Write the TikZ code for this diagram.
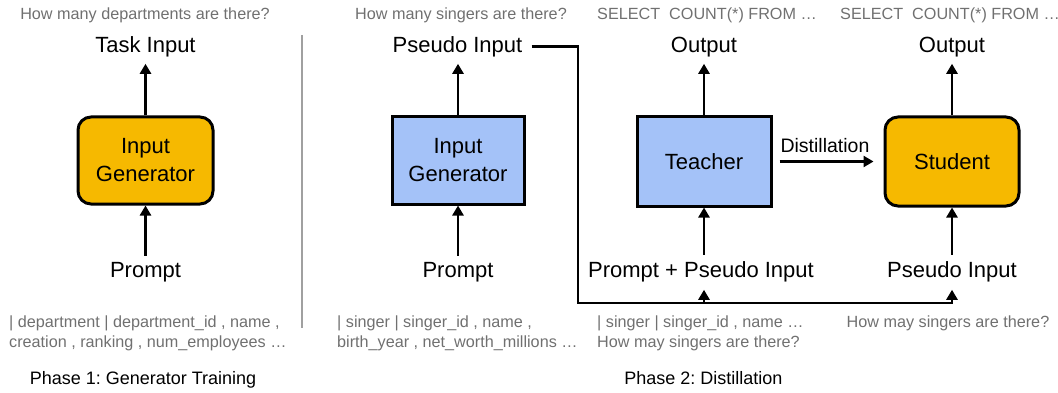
\documentclass[tikz,border=0pt]{standalone}
\usepackage{fontspec}
\setmainfont{Liberation Sans}
\usetikzlibrary{arrows.meta}
\definecolor{orangefill}{RGB}{246,185,0}
\definecolor{bluefill}{RGB}{164,194,248}
\definecolor{graytext}{RGB}{112,112,112}
\definecolor{sepgray}{RGB}{160,160,160}
\frenchspacing
\begin{document}
\begin{tikzpicture}[x=1pt,y=-1pt,
  lbl/.style={anchor=base,inner sep=0pt,font=\fontsize{22}{26}\selectfont},
  glbl/.style={anchor=base,inner sep=0pt,text=graytext,font=\fontsize{16.2}{19}\selectfont},
  gleft/.style={glbl,anchor=base west},
  phase/.style={anchor=base,inner sep=0pt,font=\fontsize{18}{22}\selectfont},
  boxbase/.style={draw=black,line width=3pt,inner sep=0pt,align=center,font=\fontsize{22}{28}\selectfont},
  obox/.style={boxbase,fill=orangefill,rounded corners=13pt},
  bbox/.style={boxbase,fill=bluefill},
  arr/.style={line width=2.8pt,-{Triangle[width=11pt,length=10pt]}},
  conn/.style={line width=2.8pt},
]
\useasboundingbox (0,0) rectangle (1058,393);

% separator
\draw[sepgray,line width=1.5pt] (302,35) -- (302,328);

% ---------- Phase 1 ----------
\node[glbl] (q1) at (145,20) {How many departments are there?};
\node[lbl] (ti) at (145.5,53) {Task Input};
\node[obox,minimum width=135pt,minimum height=87pt] (g1) at (145.5,160.5) {Input\\Generator};
\node[lbl] (pr1) at (145.5,277) {Prompt};
\node[gleft] (d1) at (9,327) {| department | department\_id , name ,};
\node[gleft] (d2) at (9,347) {creation , ranking , num\_employees …};
\node[phase] (ph1) at (143,384) {Phase 1: Generator Training};

\draw[arr,shorten >=6pt] (g1.north) -- (g1.north |- ti.south);
\draw[arr,shorten <=6pt] (g1.south |- pr1.north) -- (g1.south);

% ---------- Phase 2 ----------
\node[glbl] (q2) at (461,20) {How many singers are there?};
\node[glbl] (s1) at (707,20) {SELECT\ \ COUNT(*) FROM …};
\node[glbl] (s2) at (950,20) {SELECT\ \ COUNT(*) FROM …};

\node[lbl] (pin) at (457.5,53) {Pseudo Input};
\node[lbl] (out1) at (704,53) {Output};
\node[lbl] (out2) at (952,53) {Output};

\node[bbox,minimum width=132pt,minimum height=87pt] (g2) at (458,160.5) {Input\\Generator};
\node[bbox,minimum width=134pt,minimum height=89pt] (tea) at (704,161.5) {Teacher};
\node[obox,minimum width=134pt,minimum height=89pt] (stu) at (952,161.5) {Student};

\node[lbl] (pr2) at (458,277) {Prompt};
\node[lbl] (ppi) at (701,277) {Prompt + Pseudo Input};
\node[lbl] (psi) at (952,277) {Pseudo Input};

\node[gleft] (e1) at (337,327) {| singer | singer\_id , name ,};
\node[gleft] (e2) at (337,347) {birth\_year , net\_worth\_millions …};
\node[gleft] (f1) at (597,327) {| singer | singer\_id , name …};
\node[gleft] (f2) at (597,347) {How may singers are there?};
\node[glbl] (h1) at (948,327) {How may singers are there?};
\node[phase] (ph2) at (703.5,384) {Phase 2: Distillation};

% arrows
\draw[arr,shorten >=6pt] (g2.north) -- (g2.north |- pin.south);
\draw[arr,shorten <=6pt] (g2.south |- pr2.north) -- (g2.south);
\draw[arr,shorten >=6pt] (tea.north) -- (tea.north |- out1.south);
\draw[arr,shorten <=6pt] (tea.south |- ppi.north) -- (tea.south);
\draw[arr,shorten >=6pt] (stu.north) -- (stu.north |- out2.south);
\draw[arr,shorten <=6pt] (stu.south |- psi.north) -- (stu.south);

\draw[arr,shorten <=7pt,shorten >=10pt] (tea.east) -- (stu.west);
\node[anchor=base,inner sep=0pt,font=\fontsize{19.5}{23}\selectfont] (dl) at (825,153) {Distillation};

% pseudo input feed
\coordinate (c1) at (578,303);
\coordinate (j1) at (704,303);
\coordinate (j2) at (952,303);
\draw[conn] ([xshift=9pt,yshift=1pt]pin.east) -| (c1) -- ([xshift=1.4pt]j2);
\draw[arr,shorten >=8pt] (j1) -- (j1 |- ppi.south);
\draw[arr,shorten >=8pt] (j2) -- (j2 |- psi.south);
\end{tikzpicture}
\end{document}
